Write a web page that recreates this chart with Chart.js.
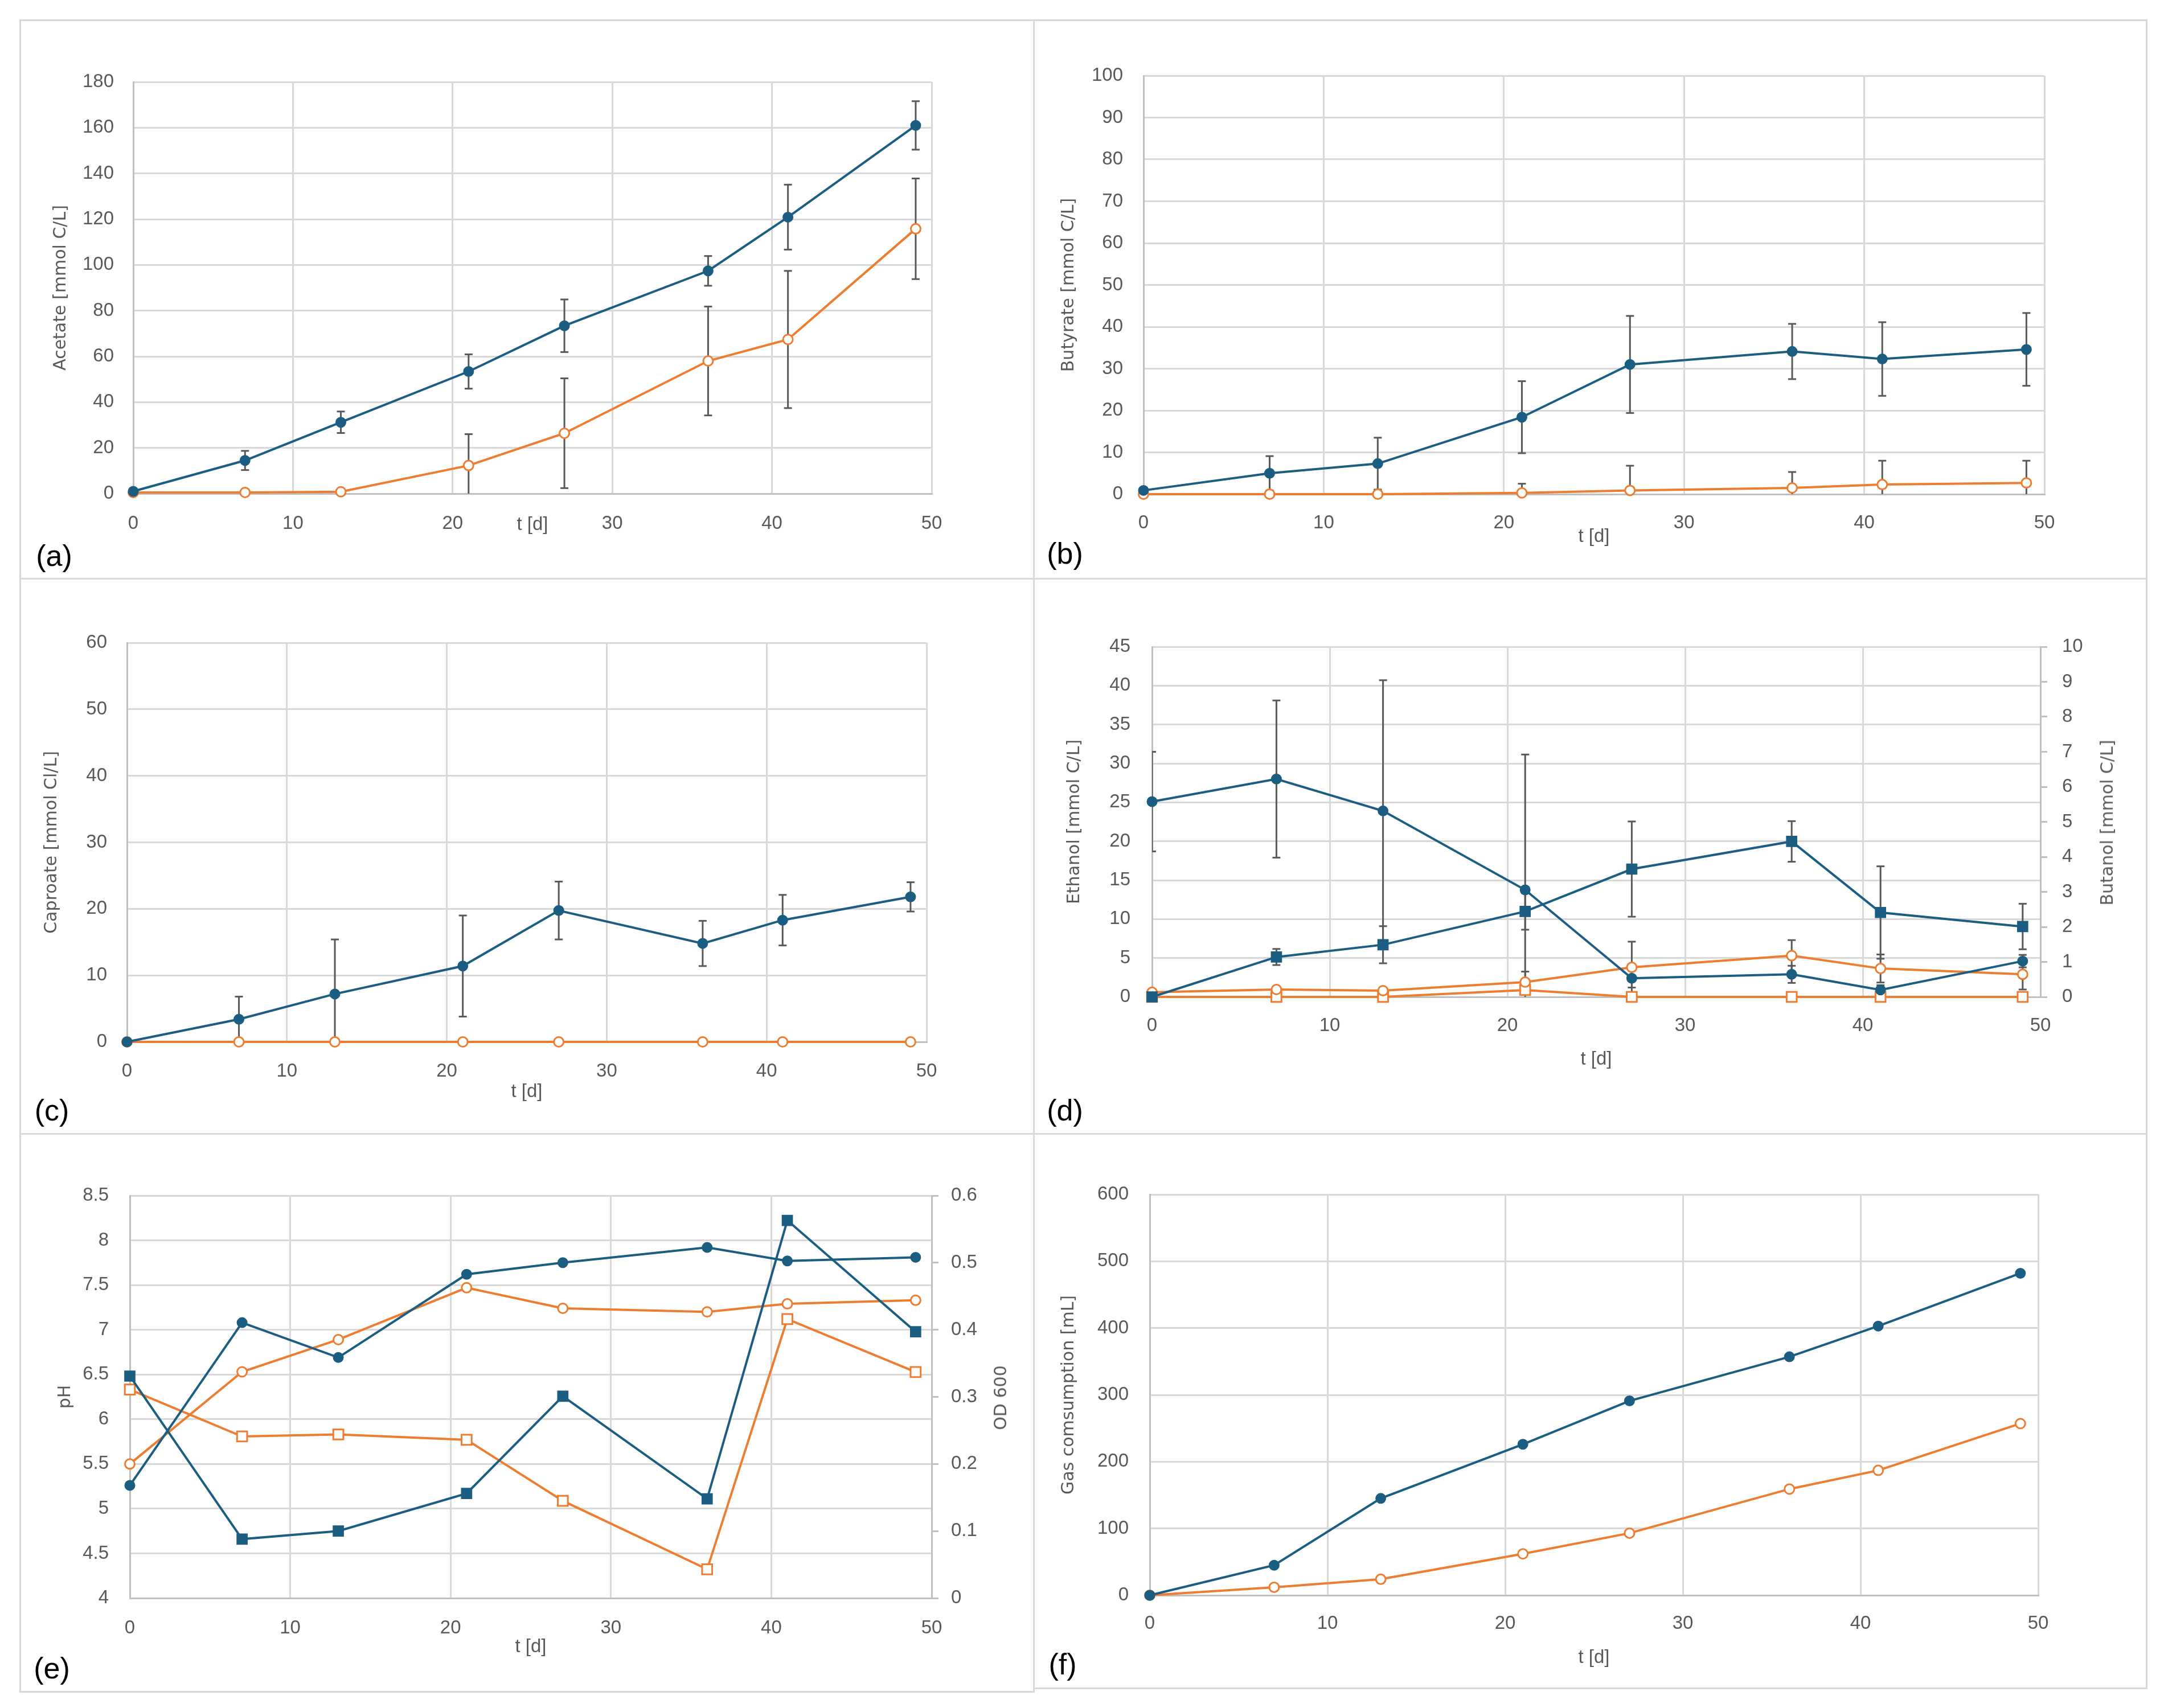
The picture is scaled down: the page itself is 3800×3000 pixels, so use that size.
<!DOCTYPE html>
<html><head><meta charset="utf-8">
<script src="https://cdn.jsdelivr.net/npm/chart.js@4.4.1/dist/chart.umd.min.js"></script>
<style>
html,body{margin:0;padding:0;background:#fff;}
body{width:3800px;height:3000px;position:relative;overflow:hidden;}
.panel{position:absolute;box-sizing:border-box;border:3px solid #d9d9d9;}
canvas{position:absolute;}
.lbl{position:absolute;font-family:'Liberation Sans',Arial,sans-serif;font-size:52px;color:#000;transform:translate(-50%,-50%);white-space:nowrap;line-height:1;}
.rt{position:absolute;font-family:'DejaVu Sans',sans-serif;font-size:30px;color:#595959;transform:translate(-50%,-50%) rotate(-90deg);white-space:nowrap;line-height:1;}
</style></head><body>
<script>
// ---------- data ----------
const T = [0, 7, 13, 21, 27, 36, 41, 49];

const acetateBlue      = [1, 14.5, 31.2, 53.4, 73.4, 97.4, 120.9, 161];
const acetateBlueErr   = [0, 4.2, 4.7, 7.5, 11.5, 6.5, 14.2, 10.6];
const acetateOrange    = [0.5, 0.5, 0.8, 12.3, 26.4, 58, 67.4, 115.8];
const acetateOrangeErr = [0, 0, 0, 13.7, 24, 23.8, 30, 22];

const butyrateBlue      = [0.9, 5.0, 7.3, 18.4, 31, 34.1, 32.3, 34.6];
const butyrateBlueErr   = [0, 4.1, 6.2, 8.6, 11.6, 6.6, 8.8, 8.7];
const butyrateOrange    = [0, 0, 0, 0.3, 0.9, 1.5, 2.3, 2.7];
const butyrateOrangeErr = [0, 0, 0.8, 2.2, 5.9, 3.8, 5.7, 5.3];

const caproateBlue      = [0, 3.4, 7.2, 11.4, 19.75, 14.8, 18.3, 21.8];
const caproateBlueErr   = [0, 3.4, 8.2, 7.6, 4.35, 3.4, 3.8, 2.2];
const caproateOrange    = [0, 0, 0, 0, 0, 0, 0, 0];

const ethanolBlue      = [25.1, 28.0, 23.9, 13.75, 2.4, 2.9, 0.9, 4.6];
const ethanolBlueErr   = [6.4, 10.1, 16.8, 17.4, 1.2, 1.1, 0.6, 0.8];
const ethanolOrange    = [0.6, 0.95, 0.8, 1.9, 3.8, 5.3, 3.65, 2.9];
const ethanolOrangeErr = [0, 0, 0, 1.35, 3.3, 2.0, 1.8, 1.95];
const butanolBlue      = [0, 1.14, 1.49, 2.44, 3.65, 4.44, 2.41, 2.01];
const butanolBlueErr   = [0, 0.23, 0.53, 0.52, 1.36, 0.58, 1.32, 0.65];
const butanolOrange    = [0, 0, 0, 0.196, 0, 0, 0, 0];

const pHBlue    = [5.26, 7.08, 6.69, 7.62, 7.75, 7.92, 7.77, 7.81];
const pHOrange  = [5.5, 6.53, 6.89, 7.47, 7.24, 7.2, 7.29, 7.33];
const odBlue    = [0.331, 0.088, 0.1, 0.156, 0.301, 0.148, 0.563, 0.397];
const odOrange  = [0.311, 0.241, 0.244, 0.236, 0.145, 0.043, 0.416, 0.337];

const gasBlue   = [0, 45, 145, 226, 291, 357, 403, 482];
const gasOrange = [0, 12, 24, 62, 93, 159, 187, 257];

const X_TITLE = 't [d]';

// ---------- style ----------
const BLUE = '#1b5e82', ORANGE = '#ed7d31', ERR = '#595959';
const GRID = '#d9d9d9', AXIS = '#bfbfbf', TXT = '#595959';
const TICKFONT = {family: "'Liberation Sans', Arial, sans-serif", size: 33};
const XTFONT = {family: "'Liberation Sans', Arial, sans-serif", size: 33};
const YTFONT = {family: "'DejaVu Sans', sans-serif", size: 30};
const fmtNum = v => String(Math.round(v * 1000) / 1000);

function series(vals, color, hollow, square, axis) {
  return {
    data: T.map((x, i) => ({x, y: vals[i]})),
    borderColor: color, borderWidth: 4, tension: 0, fill: false,
    pointStyle: square ? 'rect' : 'circle',
    pointRadius: square ? 12.5 : 8.5,
    pointBorderWidth: hollow ? 3 : 2,
    pointBackgroundColor: hollow ? '#ffffff' : color,
    pointBorderColor: color,
    clip: false, order: 0, yAxisID: axis || 'y'
  };
}
function errors(vals, errs, axis) {
  const d = [];
  T.forEach((x, i) => {
    if (errs[i] > 0) {
      d.push({x, y: vals[i] - errs[i]}, {x, y: vals[i] + errs[i]}, {x, y: null});
    }
  });
  return {
    data: d, borderColor: ERR, borderWidth: 3, spanGaps: false, tension: 0, fill: false,
    pointStyle: 'line', pointRadius: 7, pointBorderWidth: 3, pointBorderColor: ERR,
    pointBackgroundColor: ERR, order: 5, yAxisID: axis || 'y'
  };
}

function addBox(x, y, w, h) {
  const d = document.createElement('div');
  d.className = 'panel';
  d.style.left = x + 'px'; d.style.top = y + 'px';
  d.style.width = (w + 3) + 'px'; d.style.height = (h + 3) + 'px';
  document.body.appendChild(d);
}
function addText(cls, txt, cx, cy) {
  const d = document.createElement('div');
  d.className = cls; d.textContent = txt;
  d.style.left = cx + 'px'; d.style.top = cy + 'px';
  document.body.appendChild(d);
}

function build(s) {
  const [bx, by, bw, bh] = s.box;
  const [L, Tp, R, B] = s.plot;
  addBox(bx, by, bw, bh);
  const cv = document.createElement('canvas');
  cv.width = bw; cv.height = bh;
  cv.style.left = bx + 'px'; cv.style.top = by + 'px';
  cv.style.width = bw + 'px'; cv.style.height = bh + 'px';
  document.body.appendChild(cv);
  const leftW = L - bx, rightW = bx + bw - R, xH = by + bh - B, padTop = Tp - by;
  const scales = {
    x: {
      type: 'linear', position: 'bottom', min: 0, max: 50,
      ticks: {stepSize: 10, padding: s.xTickPad, font: TICKFONT, color: TXT, maxRotation: 0, autoSkip: false, callback: fmtNum},
      grid: {color: GRID, lineWidth: 3, drawTicks: false},
      border: {color: AXIS, width: 3},
      title: {display: true, text: X_TITLE, font: XTFONT, color: TXT, padding: {top: 0, bottom: s.xTitlePad}},
      afterFit: sc => { sc.height = xH; }
    },
    y: {
      type: 'linear', position: 'left', min: s.y.min, max: s.y.max,
      ticks: {stepSize: s.y.step, padding: s.yTickPad, font: TICKFONT, color: TXT, autoSkip: false, callback: fmtNum},
      grid: {color: GRID, lineWidth: 3, drawTicks: false},
      border: {color: AXIS, width: 3},
      title: {display: true, text: s.y.title, font: YTFONT, color: TXT, padding: {top: s.yTitlePad, bottom: 0}},
      afterFit: sc => { sc.width = leftW; }
    }
  };
  if (s.y2) {
    scales.y2 = {
      type: 'linear', position: 'right', min: s.y2.min, max: s.y2.max,
      ticks: {stepSize: s.y2.step, padding: s.y2.pad, font: TICKFONT, color: TXT, autoSkip: false, callback: fmtNum},
      grid: {drawOnChartArea: false, color: AXIS, lineWidth: 3, drawTicks: true, tickLength: 12},
      border: {color: AXIS, width: 3},
      afterFit: sc => { sc.width = rightW; }
    };
    addText('rt', s.y2.title, s.y2.tx, s.y2.ty);
  }
  addText('lbl', s.label, s.lx, s.ly);
  new Chart(cv, {
    type: 'line',
    data: {datasets: s.datasets},
    options: {
      responsive: false, animation: false, devicePixelRatio: 1, events: [],
      layout: {autoPadding: false, padding: {left: 0, top: padTop, right: s.y2 ? 0 : rightW, bottom: 0}},
      plugins: {legend: {display: false}, tooltip: {enabled: false}},
      scales
    }
  });
}

// (a)
build({
  box: [34, 34, 1780, 981], plot: [234, 144, 1636, 867],
  y: {min: 0, max: 180, step: 20, title: 'Acetate [mmol C/L]'},
  yTickPad: 34, xTickPad: 33, yTitlePad: 55, xTitlePad: 73,
  label: '(a)', lx: 95, ly: 976,
  datasets: [
    series(acetateBlue, BLUE, false, false),
    series(acetateOrange, ORANGE, true, false),
    errors(acetateBlue, acetateBlueErr),
    errors(acetateOrange, acetateOrangeErr)
  ]
});
// (b)
build({
  box: [1814, 34, 1954, 981], plot: [2008, 133, 3590, 868],
  y: {min: 0, max: 100, step: 10, title: 'Butyrate [mmol C/L]'},
  yTickPad: 36, xTickPad: 31, yTitlePad: 45, xTitlePad: 52,
  label: '(b)', lx: 1870, ly: 972,
  datasets: [
    series(butyrateBlue, BLUE, false, false),
    series(butyrateOrange, ORANGE, true, false),
    errors(butyrateBlue, butyrateBlueErr),
    errors(butyrateOrange, butyrateOrangeErr)
  ]
});
// (c)
build({
  box: [34, 1015, 1780, 975], plot: [223, 1129, 1627, 1830],
  y: {min: 0, max: 60, step: 10, title: 'Caproate [mmol Cl/L]'},
  yTickPad: 35, xTickPad: 32, yTitlePad: 39, xTitlePad: 52,
  label: '(c)', lx: 91, ly: 1950,
  datasets: [
    series(caproateBlue, BLUE, false, false),
    series(caproateOrange, ORANGE, true, false),
    errors(caproateBlue, caproateBlueErr)
  ]
});
// (d)
build({
  box: [1814, 1015, 1954, 975], plot: [2023, 1136, 3583, 1751],
  y: {min: 0, max: 45, step: 5, title: 'Ethanol [mmol C/L]'},
  y2: {min: 0, max: 10, step: 1, pad: 26, title: 'Butanol [mmol C/L]', tx: 3700, ty: 1445},
  yTickPad: 38, xTickPad: 31, yTitlePad: 55, xTitlePad: 109,
  label: '(d)', lx: 1870, ly: 1950,
  datasets: [
    series(ethanolBlue, BLUE, false, false, 'y'),
    series(butanolBlue, BLUE, false, true, 'y2'),
    series(ethanolOrange, ORANGE, true, false, 'y'),
    series(butanolOrange, ORANGE, true, true, 'y2'),
    errors(ethanolBlue, ethanolBlueErr, 'y'),
    errors(butanolBlue, butanolBlueErr, 'y2'),
    errors(ethanolOrange, ethanolOrangeErr, 'y')
  ]
});
// (e)
build({
  box: [34, 1990, 1780, 980], plot: [228, 2100, 1636, 2807],
  y: {min: 4, max: 8.5, step: 0.5, title: 'pH'},
  y2: {min: 0, max: 0.6, step: 0.1, pad: 22, title: 'OD 600', tx: 1757, ty: 2455},
  yTickPad: 37, xTickPad: 33, yTitlePad: 63, xTitlePad: 57,
  label: '(e)', lx: 91, ly: 2930,
  datasets: [
    series(pHBlue, BLUE, false, false, 'y'),
    series(odBlue, BLUE, false, true, 'y2'),
    series(pHOrange, ORANGE, true, false, 'y'),
    series(odOrange, ORANGE, true, true, 'y2')
  ]
});
// (f)
build({
  box: [1814, 1990, 1954, 974], plot: [2019, 2098, 3579, 2802],
  y: {min: 0, max: 600, step: 100, title: 'Gas comsumption [mL]'},
  yTickPad: 37, xTickPad: 30, yTitlePad: 45, xTitlePad: 32,
  label: '(f)', lx: 1866, ly: 2923,
  datasets: [
    series(gasBlue, BLUE, false, false),
    series(gasOrange, ORANGE, true, false)
  ]
});
</script>
</body></html>
